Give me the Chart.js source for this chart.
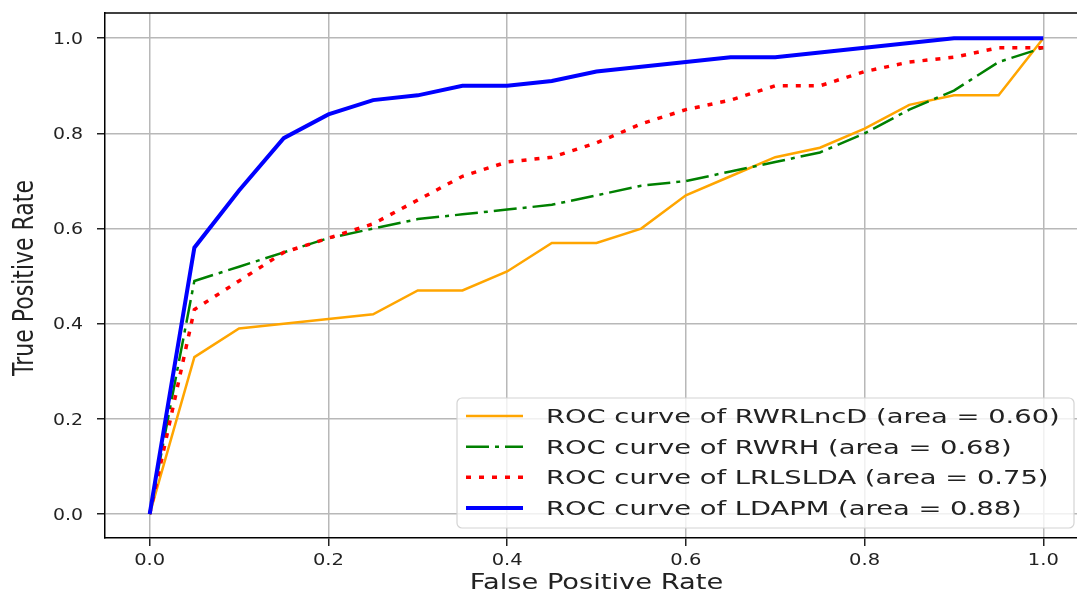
<!DOCTYPE html>
<html>
<head>
<meta charset="utf-8">
<script src="https://cdn.jsdelivr.net/npm/chart.js@4"></script>
<style>
  html, body { margin: 0; padding: 0; background: #fff; overflow: hidden; }
  #wrap { width: 1090px; height: 593px; }
</style>
</head>
<body>
<div id="wrap"><canvas id="rocChart" width="1090" height="593"></canvas></div>
<script>
// false positive rate grid shared by all curves
const fpr = [0, 0.05, 0.1, 0.15, 0.2, 0.25, 0.3, 0.35, 0.4, 0.45, 0.5,
             0.55, 0.6, 0.65, 0.7, 0.75, 0.8, 0.85, 0.9, 0.95, 1.0];

const tprRWRLncD = [0, 0.33, 0.39, 0.40, 0.41, 0.42, 0.47, 0.47, 0.51, 0.57, 0.57,
                    0.60, 0.67, 0.71, 0.75, 0.77, 0.81, 0.86, 0.88, 0.88, 1.0];
const tprRWRH    = [0, 0.49, 0.52, 0.55, 0.58, 0.60, 0.62, 0.63, 0.64, 0.65, 0.67,
                    0.69, 0.70, 0.72, 0.74, 0.76, 0.80, 0.85, 0.89, 0.95, 0.98];
const tprLRLSLDA = [0, 0.43, 0.49, 0.55, 0.58, 0.61, 0.66, 0.71, 0.74, 0.75, 0.78,
                    0.82, 0.85, 0.87, 0.90, 0.90, 0.93, 0.95, 0.96, 0.98, 0.98];
const tprLDAPM   = [0, 0.56, 0.68, 0.79, 0.84, 0.87, 0.88, 0.90, 0.90, 0.91, 0.93,
                    0.94, 0.95, 0.96, 0.96, 0.97, 0.98, 0.99, 1.0, 1.0, 1.0];

const seriesLabels = [
    'ROC curve of RWRLncD (area = 0.60)',
    'ROC curve of RWRH (area = 0.68)',
    'ROC curve of LRLSLDA (area = 0.75)',
    'ROC curve of LDAPM (area = 0.88)'
];

const xTicks = [0, 0.2, 0.4, 0.6, 0.8, 1.0];
const yTicks = [0, 0.2, 0.4, 0.6, 0.8, 1.0];
const xTickLabels = ['0.0', '0.2', '0.4', '0.6', '0.8', '1.0'];
const yTickLabels = ['0.0', '0.2', '0.4', '0.6', '0.8', '1.0'];

function toPoints(ys) {
    return fpr.map((x, i) => ({ x: x, y: ys[i] }));
}

// draws text squeezed/stretched horizontally, like the reference image
function stretchText(ctx, txt, x, y, sx, align) {
    ctx.save();
    ctx.translate(x, y);
    ctx.scale(sx, 1);
    ctx.textAlign = align;
    ctx.textBaseline = 'alphabetic';
    ctx.fillText(txt, 0, 0);
    ctx.restore();
}

const mplText = {
    id: 'mplText',
    afterDraw(chart) {
        const ctx = chart.ctx;
        const area = chart.chartArea;
        const xs = chart.scales.x;
        const ys = chart.scales.y;

        // top spine
        ctx.save();
        ctx.strokeStyle = '#000';
        ctx.lineWidth = 1.5;
        ctx.beginPath();
        ctx.moveTo(area.left, area.top);
        ctx.lineTo(area.right, area.top);
        ctx.stroke();
        ctx.restore();

        ctx.save();
        ctx.fillStyle = '#222';

        // tick labels
        ctx.font = '15px "DejaVu Sans"';
        xTicks.forEach((v, i) => {
            stretchText(ctx, xTickLabels[i], xs.getPixelForValue(v), 565, 1.3, 'center');
        });
        yTicks.forEach((v, i) => {
            stretchText(ctx, yTickLabels[i], 83, ys.getPixelForValue(v) + 5.5, 1.26, 'right');
        });

        // axis titles
        ctx.font = '22px "DejaVu Sans"';
        stretchText(ctx, 'False Positive Rate', (area.left + area.right) / 2, 589, 1.24, 'center');
        ctx.save();
        ctx.translate(33, 278);
        ctx.scale(1.26, 1);
        ctx.rotate(-Math.PI / 2);
        ctx.textAlign = 'center';
        ctx.fillText('True Positive Rate', 0, 0);
        ctx.restore();

        // legend box, lower right inside the axes
        const bx = 457, by = 398, bw = 617, bh = 130;
        ctx.beginPath();
        ctx.roundRect(bx, by, bw, bh, 5);
        ctx.fillStyle = 'rgba(255,255,255,0.8)';
        ctx.fill();
        ctx.strokeStyle = '#d4d4d4';
        ctx.lineWidth = 1.2;
        ctx.stroke();

        const rowY = [416, 446.7, 477.3, 508];
        chart.data.datasets.forEach((ds, i) => {
            const y = rowY[i];
            ctx.save();
            ctx.strokeStyle = ds.borderColor;
            ctx.lineWidth = ds.borderWidth;
            ctx.setLineDash(ds.borderDash || []);
            ctx.beginPath();
            ctx.moveTo(466, y);
            ctx.lineTo(523, y);
            ctx.stroke();
            ctx.restore();
            ctx.fillStyle = '#222';
            ctx.font = '19px "DejaVu Sans"';
            stretchText(ctx, seriesLabels[i], 546, y + 7, 1.44, 'left');
        });
        ctx.restore();
    }
};

const gridOpts = {
    color: '#b8b8b8',
    lineWidth: 1.5,
    tickLength: 8,
    tickColor: '#222',
    tickWidth: 1.5
};

new Chart(document.getElementById('rocChart').getContext('2d'), {
    type: 'line',
    data: {
        datasets: [{
            label: seriesLabels[0],
            data: toPoints(tprRWRLncD),
            borderColor: '#ffa500',
            borderWidth: 2.5,
            order: 4
        }, {
            label: seriesLabels[1],
            data: toPoints(tprRWRH),
            borderColor: '#008000',
            borderWidth: 2.5,
            borderDash: [23, 6, 4, 6],
            order: 3
        }, {
            label: seriesLabels[2],
            data: toPoints(tprLRLSLDA),
            borderColor: '#ff0000',
            borderWidth: 3.5,
            borderDash: [5, 8],
            order: 2
        }, {
            label: seriesLabels[3],
            data: toPoints(tprLDAPM),
            borderColor: '#0000ff',
            borderWidth: 4,
            order: 1
        }]
    },
    options: {
        responsive: false,
        animation: false,
        devicePixelRatio: 1,
        elements: {
            point: { radius: 0, hoverRadius: 0 },
            line: { tension: 0, fill: false }
        },
        layout: { padding: { left: 97, top: 13, right: 2, bottom: 47 } },
        plugins: {
            legend: { display: false },
            tooltip: { enabled: false }
        },
        scales: {
            x: {
                type: 'linear',
                min: -0.05,
                max: 1.05,
                afterBuildTicks: s => { s.ticks = xTicks.map(v => ({ value: v })); },
                ticks: { display: false },
                grid: gridOpts,
                border: { color: '#000', width: 1.5 }
            },
            y: {
                type: 'linear',
                min: -0.05,
                max: 1.053,
                afterBuildTicks: s => { s.ticks = yTicks.map(v => ({ value: v })); },
                ticks: { display: false },
                grid: gridOpts,
                border: { color: '#000', width: 1.5 }
            }
        }
    },
    plugins: [mplText]
});
</script>
</body>
</html>
